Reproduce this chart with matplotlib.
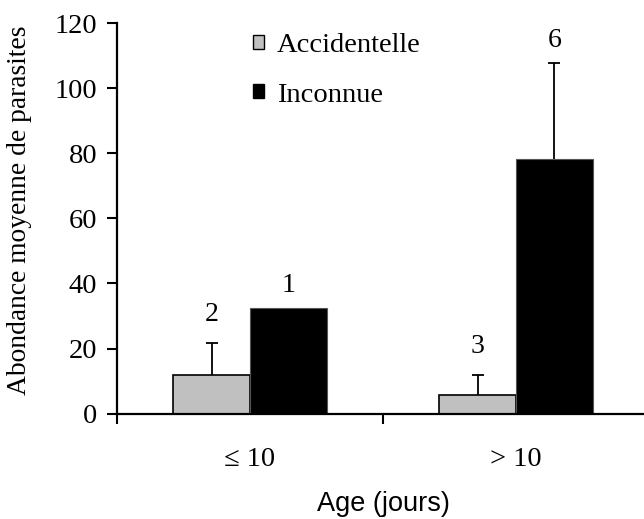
import matplotlib
matplotlib.use("Agg")
import matplotlib.pyplot as plt
import numpy as np
from matplotlib.patches import Patch

categories = ["\u2264 10", "> 10"]
series_names = ["Accidentelle", "Inconnue"]
accidentelle = [12.0, 5.8]
accidentelle_err = [9.6, 6.0]
inconnue = [32.4, 78.1]
inconnue_err = [0.0, 29.6]
n_labels_acc = ["2", "3"]
n_labels_inc = ["1", "6"]
yticks = [0, 20, 40, 60, 80, 100, 120]

plt.rcParams['font.family'] = ['Liberation Serif', 'DejaVu Serif']

fig = plt.figure(figsize=(6.44, 5.19), dpi=100)
ax = fig.add_axes([117/644, 105.3/519, 532/644, 390.7/519])

x = np.arange(len(categories))
w = 0.288
colors = ["#c0c0c0", "#000000"]

ax.bar(x - w/2, accidentelle, w, color=colors[0], edgecolor="black", linewidth=1.2, zorder=2)
ax.bar(x + w/2, inconnue, w, color=colors[1], edgecolor="#555555", linewidth=0.8, zorder=2)


def up_err(xs, ys, errs):
    eb = ax.errorbar(xs, ys, yerr=[np.zeros_like(errs), errs], fmt='none',
                     ecolor='black', elinewidth=1.3, capsize=4.5, capthick=1.3, zorder=1)
    caps = eb[1]
    if len(caps) == 2:
        caps[0].set_visible(False)


acc_err = np.array(accidentelle_err)
inc_err = np.array(inconnue_err)
up_err(x - w/2, np.array(accidentelle), acc_err)
mask = inc_err > 0
up_err((x + w/2)[mask], np.array(inconnue)[mask], inc_err[mask])

for xi, top, lab in zip(x - w/2, np.array(accidentelle) + acc_err, n_labels_acc):
    ax.annotate(lab, (xi, top), xytext=(0, 12), textcoords='offset points',
                ha='center', va='bottom', fontsize=20)
for xi, top, lab in zip(x + w/2, np.array(inconnue) + inc_err, n_labels_inc):
    ax.annotate(lab, (xi, top), xytext=(0, 7), textcoords='offset points',
                ha='center', va='bottom', fontsize=20)

ax.set_xlim(-0.5, 1.5)
ax.set_ylim(0, 120)
ax.set_yticks(yticks)
ax.set_yticklabels([str(t) for t in yticks], fontsize=20.5)
ax.set_xticks([-0.5, 0.5, 1.5])
ax.set_xticklabels([])
ax.set_xticks(x, minor=True)
ax.set_xticklabels(categories, minor=True, fontsize=20.5)
ax.tick_params(axis='x', which='minor', length=0, pad=24)
ax.tick_params(axis='x', which='major', direction='out', length=7.2, width=1.5)
ax.tick_params(axis='y', direction='out', length=7.2, width=1.5, pad=7)

for s in ['top', 'right']:
    ax.spines[s].set_visible(False)
for s in ['left', 'bottom']:
    ax.spines[s].set_linewidth(1.6)
ax.spines['bottom'].set_zorder(3)

ax.set_ylabel("Abondance moyenne de parasites", fontsize=19.8)
ax.yaxis.set_label_coords(-0.1598, 0.521)
ax.set_xlabel("Age (jours)", fontsize=19.5, family=['Liberation Sans', 'DejaVu Sans'], labelpad=14)

handles = [Patch(facecolor=c, edgecolor='black', linewidth=1.0) for c in colors]
ax.legend(handles, series_names, loc='upper left', bbox_to_anchor=(0.256, 0.975),
          frameon=False, fontsize=20.5, handlelength=0.38, handleheight=0.38,
          handletextpad=0.45, labelspacing=0.87, borderpad=0, borderaxespad=0)

fig.savefig("out.png", dpi=100)
